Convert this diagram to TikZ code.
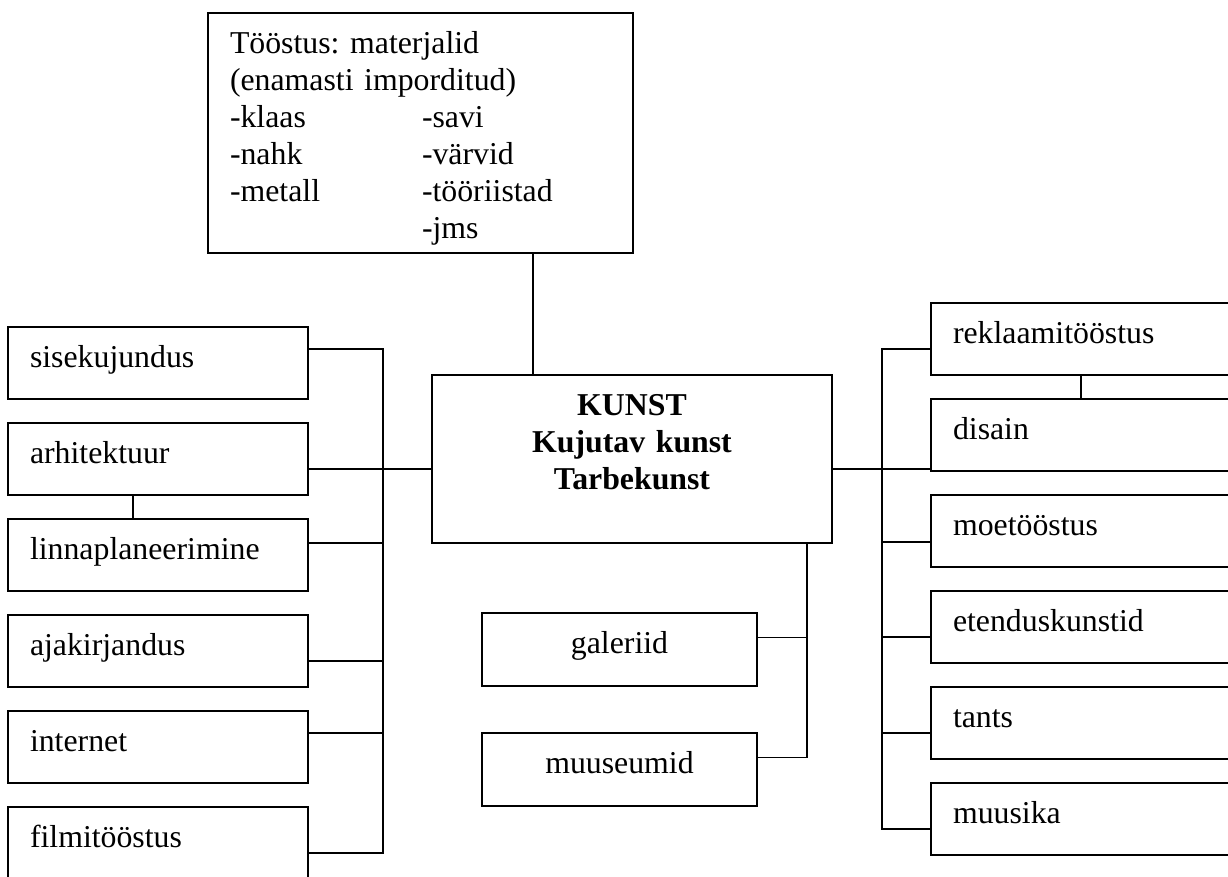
\documentclass[tikz,border=0pt]{standalone}
\usepackage{fontspec}
\setmainfont{Liberation Serif}
\usetikzlibrary{positioning}
\frenchspacing

\begin{document}
\begin{tikzpicture}[x=1pt,y=-1pt,node distance=24pt,line width=1.6pt,
  font=\fontsize{31.8pt}{37pt}\selectfont,every node/.style={outer sep=0pt},
  field/.style={draw,anchor=north west,text width=256pt,inner xsep=22pt,align=left,minimum height=72pt,text height=24pt,text depth=16pt},
  place/.style={field,text width=231pt,minimum height=73pt,align=center}]
  \useasboundingbox (0,0) rectangle (1228,876);
  \node[draw,anchor=north west,text width=381pt,inner xsep=22pt,align=left,minimum height=240pt,text height=27pt,text depth=187pt](mat) at (208,13) {Tööstus: materjalid\\(enamasti imporditud)\\\makebox[192pt][l]{-klaas}-savi\\\makebox[192pt][l]{-nahk}-värvid\\\makebox[192pt][l]{-metall}-tööriistad\\\makebox[192pt][l]{}-jms};
  \node[draw,anchor=north west,text width=400pt,inner xsep=0pt,align=center,minimum height=168pt,text height=21pt,text depth=109pt,font=\fontsize{31.8pt}{37pt}\selectfont\bfseries](kunst) at (432,375) {KUNST\\Kujutav kunst\\Tarbekunst};
  % left column
  \node[field](sise) at (8,327) {sisekujundus};
  \node[field,below= of sise](arh) {arhitektuur};
  \node[field,below= of arh](lin) {linnaplaneerimine};
  \node[field,below= of lin](ajak) {ajakirjandus};
  \node[field,below= of ajak](net) {internet};
  \node[field,below= of net](film) {filmitööstus};
  % right column
  \node[field](rek) at (931,303) {reklaamitööstus};
  \node[field,below= of rek](dis) {disain};
  \node[field,below= of dis](moe) {moetööstus};
  \node[field,below= of moe](eten) {etenduskunstid};
  \node[field,below= of eten](tants) {tants};
  \node[field,below= of tants](muus) {muusika};
  % below the centre
  \node[place](gal) at (482,613) {galeriid};
  \node[place,below=47pt of gal](muse) {muuseumid};
  \coordinate (lbus) at (383,469);
  \coordinate (rbus) at (882,469);
  \draw ([xshift=-99pt]kunst.north) -- ([xshift=-99pt]kunst.north |- mat.south);
  \draw ([yshift=-10pt]arh.east) -- (kunst.west |- lbus);
  \draw ([yshift=14pt]sise.east) -| (lbus);
  \draw ([yshift=12pt]lin.east) -| (lbus);
  \draw ([yshift=-10pt]ajak.east) -| (lbus);
  \draw ([yshift=14pt]net.east) -| (lbus);
  \draw ([yshift=-10pt]film.east) -| (lbus);
  \draw ([xshift=-25pt]arh.south) -- ([xshift=-25pt]lin.north);
  \draw ([yshift=-10pt]kunst.east) -- (dis.west |- rbus);
  \draw ([yshift=-10pt]rek.west) -| (rbus);
  \draw ([yshift=-11pt]moe.west) -| (rbus);
  \draw ([yshift=-10pt]eten.west) -| (rbus);
  \draw ([yshift=-10pt]tants.west) -| (rbus);
  \draw ([yshift=-10pt]muus.west) -| (rbus);
  \draw (rek.south) -- (dis.north);
  \draw ([xshift=175pt]kunst.south) |- ([yshift=12pt]muse.east);
  \draw ([yshift=12pt]gal.east) -| ([xshift=175pt]kunst.south);
\end{tikzpicture}
\end{document}
